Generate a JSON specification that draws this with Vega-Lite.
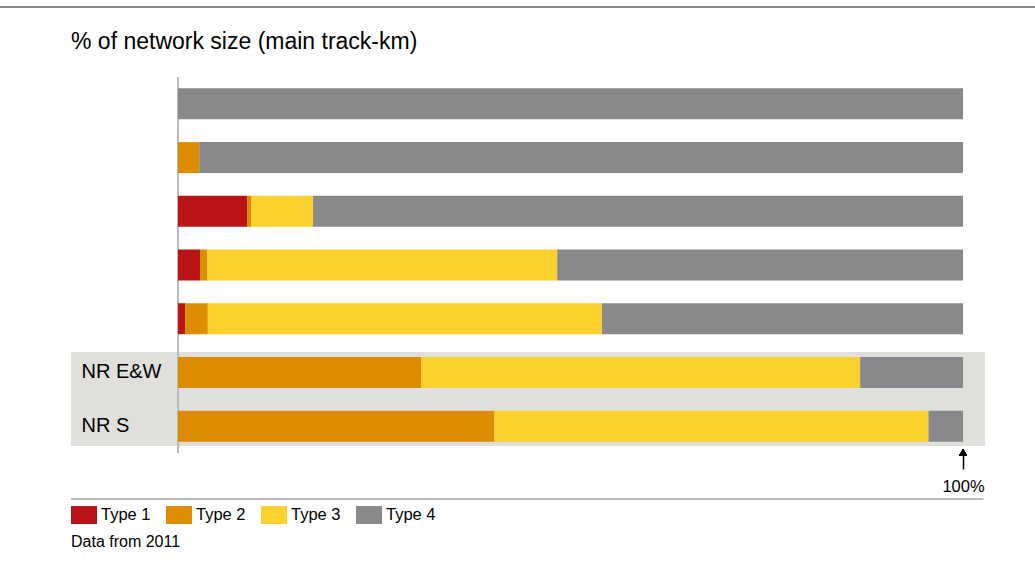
{
  "$schema": "https://vega.github.io/schema/vega-lite/v6.json",
  "autosize": {"type": "none"},
  "padding": {"left": 71, "top": 77, "right": 50, "bottom": 110},
  "width": 914,
  "height": 376,
  "background": "white",
  "title": {
    "text": "% of network size (main track-km)",
    "anchor": "start",
    "frame": "group",
    "fontSize": 23,
    "fontWeight": "normal",
    "color": "black",
    "font": "Liberation Sans",
    "offset": -48
  },
  "config": {
    "font": "Liberation Sans",
    "view": {"stroke": null}
  },
  "datasets": {
    "shares": [
      {"row": "Row 1", "type": "Type 4", "value": 100},
      {"row": "Row 2", "type": "Type 2", "value": 2.7},
      {"row": "Row 2", "type": "Type 4", "value": 97.3},
      {"row": "Row 3", "type": "Type 1", "value": 8.8},
      {"row": "Row 3", "type": "Type 2", "value": 0.5},
      {"row": "Row 3", "type": "Type 3", "value": 7.9},
      {"row": "Row 3", "type": "Type 4", "value": 82.8},
      {"row": "Row 4", "type": "Type 1", "value": 2.8},
      {"row": "Row 4", "type": "Type 2", "value": 0.9},
      {"row": "Row 4", "type": "Type 3", "value": 44.6},
      {"row": "Row 4", "type": "Type 4", "value": 51.7},
      {"row": "Row 5", "type": "Type 1", "value": 0.9},
      {"row": "Row 5", "type": "Type 2", "value": 2.9},
      {"row": "Row 5", "type": "Type 3", "value": 50.2},
      {"row": "Row 5", "type": "Type 4", "value": 46.0},
      {"row": "NR E&W", "type": "Type 2", "value": 31.0},
      {"row": "NR E&W", "type": "Type 3", "value": 55.9},
      {"row": "NR E&W", "type": "Type 4", "value": 13.1},
      {"row": "NR S", "type": "Type 2", "value": 40.3},
      {"row": "NR S", "type": "Type 3", "value": 55.3},
      {"row": "NR S", "type": "Type 4", "value": 4.4}
    ]
  },
  "data": {"name": "shares"},
  "layer": [
    {
      "mark": {"type": "rect", "color": "#E0DFDB"},
      "encoding": {
        "y": {"datum": "NR E&W", "type": "nominal", "bandPosition": 0.12},
        "y2": {"datum": "NR S", "bandPosition": 0.87}
      }
    },
    {
      "mark": {"type": "rule", "color": "#BBBBBB", "strokeWidth": 1.5},
      "encoding": {
        "x": {"datum": 0, "type": "quantitative"}
      }
    },
    {
      "mark": {"type": "bar", "height": {"band": 0.577}},
      "encoding": {
        "y": {
          "field": "row",
          "type": "nominal",
          "sort": ["Row 1", "Row 2", "Row 3", "Row 4", "Row 5", "NR E&W", "NR S"],
          "scale": {"paddingInner": 0, "paddingOuter": 0},
          "axis": {
            "title": null,
            "domain": false,
            "ticks": false,
            "tickSize": 0,
            "grid": false,
            "labelAlign": "left",
            "labelPadding": -10,
            "labelFontSize": 20,
            "labelColor": "black",
            "labelExpr": "slice(datum.value, 0, 3) == 'Row' ? '' : datum.value",
            "zindex": 1
          }
        },
        "x": {
          "field": "value",
          "type": "quantitative",
          "stack": "zero",
          "scale": {"domain": [-13.63, 102.8], "nice": false, "zero": false},
          "axis": {
            "title": null,
            "values": [100],
            "domain": false,
            "grid": false,
            "ticks": true,
            "tickSize": 16,
            "tickColor": "black",
            "tickWidth": 1.5,
            "labelExpr": "datum.value + '%'",
            "labelFontSize": 16.5,
            "labelPadding": 9,
            "labelColor": "black"
          }
        },
        "order": {"field": "type", "type": "nominal"},
        "color": {
          "field": "type",
          "type": "nominal",
          "scale": {
            "domain": ["Type 1", "Type 2", "Type 3", "Type 4"],
            "range": ["#B91518", "#DD8C00", "#FCD02D", "#88898B"]
          },
          "legend": {
            "orient": "none",
            "legendX": 0,
            "legendY": 425,
            "direction": "horizontal",
            "title": "Data from 2011",
            "titleOrient": "bottom",
            "titleAnchor": "start",
            "titleFontSize": 16,
            "titleFontWeight": "normal",
            "titleColor": "black",
            "titlePadding": 10,
            "symbolType": "M-1,-0.69H1V0.69H-1Z",
            "symbolSize": 676,
            "symbolStrokeWidth": 0,
            "symbolOpacity": 1,
            "labelFontSize": 16.5,
            "labelOffset": 4,
            "labelColor": "black",
            "columnPadding": 15
          }
        }
      }
    },
    {
      "mark": {"type": "point", "shape": "triangle-up", "filled": true, "color": "black", "size": 60, "opacity": 1},
      "encoding": {
        "x": {"datum": 100, "type": "quantitative"},
        "y": {"datum": "NR S", "type": "nominal", "bandPosition": 0.99}
      }
    },
    {
      "mark": {"type": "rule", "color": "#888888", "strokeWidth": 2},
      "encoding": {
        "x": {"datum": -22.67, "type": "quantitative"},
        "x2": {"datum": 109.17},
        "y": {"datum": "Row 1", "type": "nominal", "bandPosition": -1.303}
      }
    },
    {
      "mark": {"type": "rule", "color": "#BBBBBB", "strokeWidth": 2},
      "encoding": {
        "x": {"datum": -13.63, "type": "quantitative"},
        "x2": {"datum": 102.55},
        "y": {"datum": "NR S", "type": "nominal", "bandPosition": 1.855}
      }
    }
  ]
}
